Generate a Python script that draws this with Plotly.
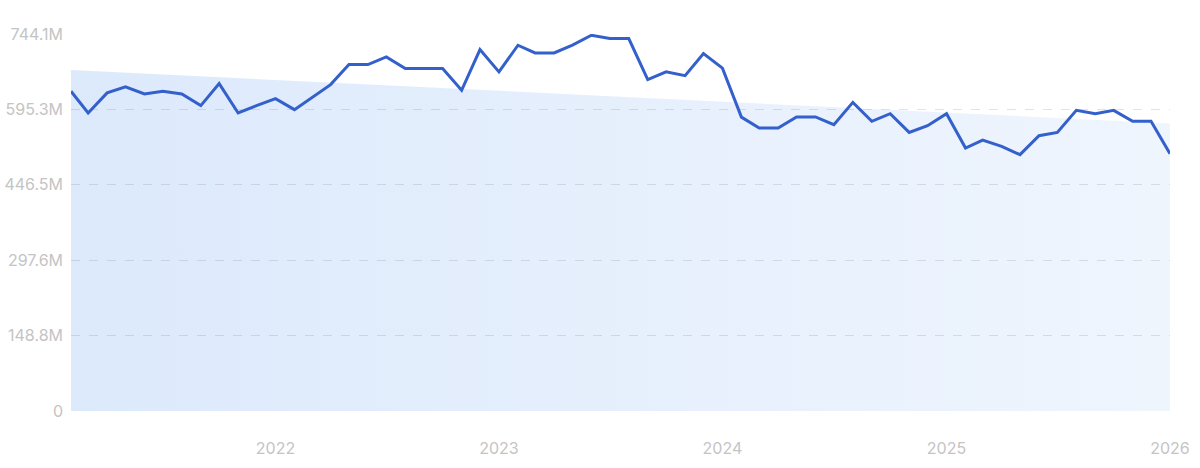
import plotly.graph_objects as go
import pandas as pd

# Monthly dates Feb 2021 .. Jan 2026
dates = pd.date_range("2021-02-01", "2026-01-01", freq="MS")

values_m = [
    631.0, 588.3, 627.8, 639.7, 625.8, 631.0, 625.8, 602.7, 646.2, 588.3,
    602.7, 616.5, 594.8, 617.9, 644.2, 683.7, 683.7, 698.9, 675.8, 675.8,
    675.8, 633.0, 713.4, 669.3, 721.9, 706.8, 706.8, 722.3, 741.6, 735.1,
    735.1, 654.1, 669.3, 662.0, 705.5, 676.8, 580.0, 558.6, 558.6, 580.4,
    580.4, 565.2, 609.2, 571.7, 586.9, 549.9, 563.2, 586.9, 519.1, 534.5,
    522.3, 505.9, 543.4, 549.9, 593.4, 586.9, 593.4, 571.7, 571.7, 507.9,
]
values = [v * 1e6 for v in values_m]

trend_dates = [dates[0], dates[-1]]
trend_m = [673.0, 567.5]
trend = [v * 1e6 for v in trend_m]

y_tickvals = [0, 148.8e6, 297.6e6, 446.5e6, 595.3e6, 744.1e6]
y_ticktext = ["0", "148.8M", "297.6M", "446.5M", "595.3M", "744.1M"]
x_tickvals = ["2022-01-01", "2023-01-01", "2024-01-01", "2025-01-01", "2026-01-01"]
x_ticktext = ["2022", "2023", "2024", "2025", "2026"]

fig = go.Figure()

fig.add_trace(go.Scatter(
    x=trend_dates, y=trend, mode="lines", line=dict(width=0),
    fill="tozeroy",
    fillgradient=dict(
        type="horizontal",
        colorscale=[[0, "rgba(45,125,235,0.165)"], [1, "rgba(45,125,235,0.075)"]],
    ),
    hoverinfo="skip", showlegend=False,
))

fig.add_trace(go.Scatter(
    x=dates, y=values, mode="lines",
    line=dict(color="#3360cb", width=3),
    showlegend=False,
))

fig.update_layout(
    width=1200, height=468,
    margin=dict(l=71, r=30, t=34, b=57),
    paper_bgcolor="white", plot_bgcolor="white",
    font=dict(family="Inter, Roboto, sans-serif", color="#c4c4c4", size=16),
)
fig.update_xaxes(
    range=[dates[0], dates[-1]],
    tickvals=x_tickvals, ticktext=x_ticktext,
    showgrid=False, zeroline=False, showline=False,
    ticks="", ticklabelstandoff=26, automargin=False,
    tickfont=dict(size=16, color="#c4c4c4"),
)
fig.update_yaxes(
    range=[0, 744.1e6],
    tickvals=y_tickvals, ticktext=y_ticktext,
    showgrid=True, gridcolor="#e3e3e3", griddash="dash", gridwidth=1,
    zeroline=False, showline=False, automargin=False,
    ticks="", ticklabelstandoff=7,
    tickfont=dict(size=16, color="#c4c4c4"),
)

fig.write_html(
    "out.html",
    config={"displayModeBar": False},
    post_script="document.body.style.margin='0';",
)
